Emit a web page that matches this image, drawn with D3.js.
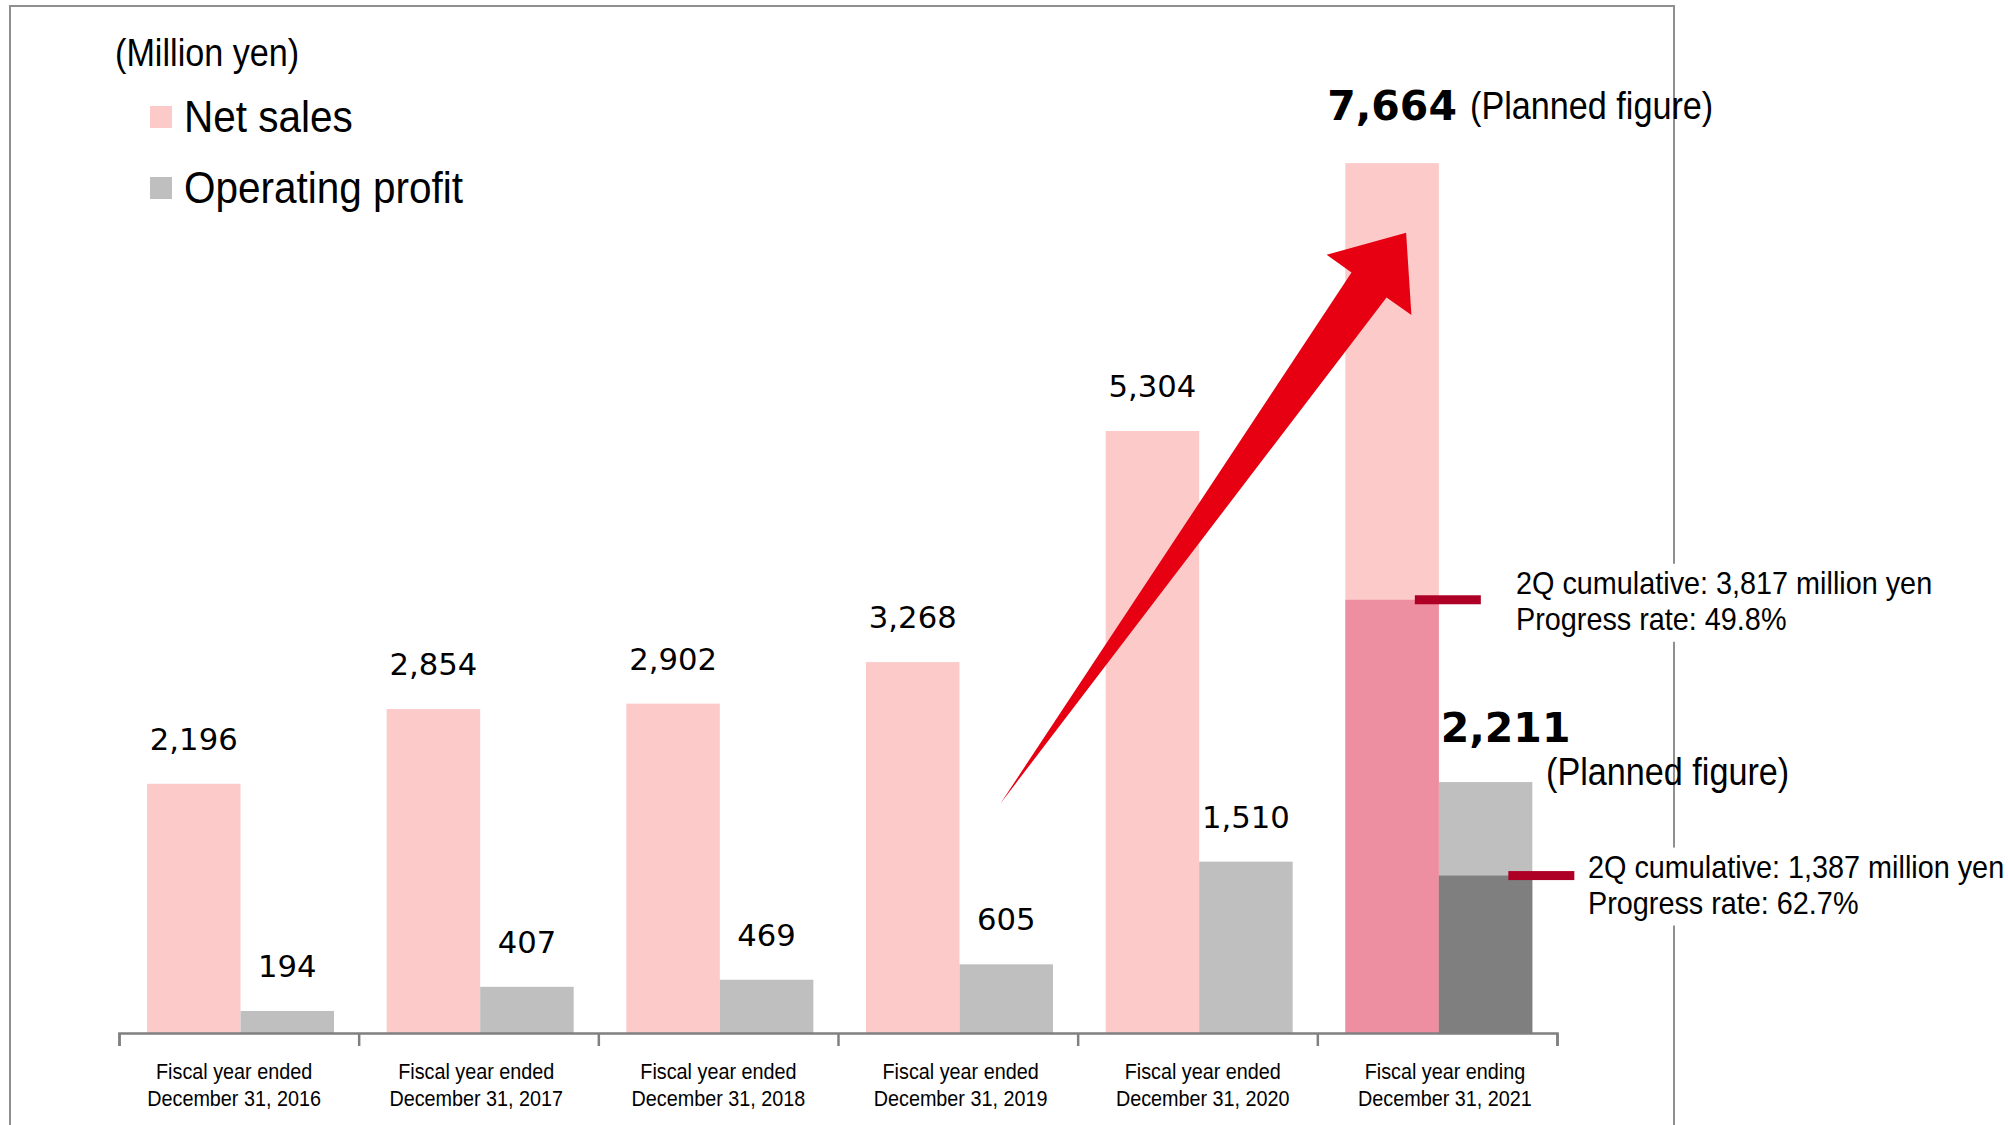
<!DOCTYPE html>
<html>
<head>
<meta charset="utf-8">
<script src="https://cdn.jsdelivr.net/npm/d3@7"></script>
<style>
  body { margin: 0; background: #fff; }
</style>
</head>
<body>
<div id="chart-area"></div>
<script>
/* data */
const years = ["2016", "2017", "2018", "2019", "2020", "2021"]
const labelTop = ["Fiscal year ended", "Fiscal year ended", "Fiscal year ended",
  "Fiscal year ended", "Fiscal year ended", "Fiscal year ending"]
const labelBottom = ["December 31, 2016", "December 31, 2017", "December 31, 2018",
  "December 31, 2019", "December 31, 2020", "December 31, 2021"]
const netSales = [2196, 2854, 2902, 3268, 5304, 7664]
const opProfit = [194, 407, 469, 605, 1510, 2211]
const q2Sales = 3817
const q2Profit = 1387
const q2SalesRate = "49.8%"
const q2ProfitRate = "62.7%"

const WIDTH = 2008
const HEIGHT = 1125
const SX = 0.9   // text in the slide is squeezed horizontally

const svg = d3.select("#chart-area").append("svg")
  .attr("width", WIDTH)
  .attr("height", HEIGHT)

// frame
svg.append("rect")
  .attr("x", 10).attr("y", 6)
  .attr("width", 1664).attr("height", 1200)
  .attr("fill", "none")
  .attr("stroke", "#8f8f8f")
  .attr("stroke-width", 2)

// scales
const x0 = d3.scaleBand().domain(years).range([119, 1557]).padding(0)
const x1 = d3.scaleBand().domain(["sales", "profit"]).range([28, 215]).padding(0)
const y = d3.scaleLinear().domain([0, 8000]).range([1033, 125])
// category labels sit on a slightly wider pitch than the bars
const xLabel = d3.scaleBand().domain(years).range([113, 1566]).padding(0)
const fmt = d3.format(",")

const arial = "'Liberation Sans', Arial, sans-serif"
const verdana = "'DejaVu Sans', Verdana, sans-serif"

function addText(parent, x, yy, str, size, opts = {}) {
  return parent.append("text")
    .attr("transform", `translate(${x},${yy}) scale(${opts.sx || SX},1)`)
    .attr("text-anchor", opts.anchor || "start")
    .style("font-family", opts.family || arial)
    .style("font-size", size + "px")
    .style("font-weight", opts.weight || "normal")
    .attr("fill", "#000")
    .text(str)
}

// bars
const g = svg.append("g")
const rows = years.map((yr, i) => ({ yr, sales: netSales[i], profit: opProfit[i] }))

g.selectAll(".bar-sales").data(rows).enter().append("rect")
  .attr("class", "bar-sales")
  .attr("x", d => x0(d.yr) + x1("sales"))
  .attr("y", d => y(d.sales))
  .attr("width", x1.bandwidth())
  .attr("height", d => y(0) - y(d.sales))
  .attr("fill", "#fdcaca")

g.selectAll(".bar-profit").data(rows).enter().append("rect")
  .attr("class", "bar-profit")
  .attr("x", d => x0(d.yr) + x1("profit"))
  .attr("y", d => y(d.profit))
  .attr("width", x1.bandwidth())
  .attr("height", d => y(0) - y(d.profit))
  .attr("fill", "#bfbfbf")

// 2Q cumulative overlays on the last year
const lastYr = years[years.length - 1]
g.append("rect")
  .attr("x", x0(lastYr) + x1("sales"))
  .attr("y", y(q2Sales))
  .attr("width", x1.bandwidth())
  .attr("height", y(0) - y(q2Sales))
  .attr("fill", "#ee8ea1")
g.append("rect")
  .attr("x", x0(lastYr) + x1("profit"))
  .attr("y", y(q2Profit))
  .attr("width", x1.bandwidth())
  .attr("height", y(0) - y(q2Profit))
  .attr("fill", "#7f7f7f")

// x axis: ticks on the category edges
const edge = d3.scaleLinear().domain([0, years.length]).range(x0.range())
svg.append("g")
  .attr("transform", `translate(0, ${y(0)})`)
  .call(d3.axisBottom(edge).ticks(years.length).tickFormat("").tickSize(13).tickSizeOuter(13))
  .call(a => a.selectAll("path, line").attr("stroke", "#808080").attr("stroke-width", 2.5))

// category labels
rows.forEach((d, i) => {
  const cx = xLabel(d.yr) + xLabel.bandwidth() / 2
  addText(svg, cx, 1079, labelTop[i], 22, { anchor: "middle" })
  addText(svg, cx, 1106, labelBottom[i], 22, { anchor: "middle" })
})

// value labels (actual years)
const actual = rows.slice(0, rows.length - 1)
g.selectAll(".lbl-sales").data(actual).enter().append("text")
  .attr("class", "lbl-sales")
  .attr("transform", d => `translate(${x0(d.yr) + x1("sales") + x1.bandwidth() / 2},${y(d.sales) - 34}) scale(0.99,1)`)
  .attr("text-anchor", "middle")
  .style("font-family", verdana)
  .style("font-size", "31px")
  .text(d => fmt(d.sales))

g.selectAll(".lbl-profit").data(actual).enter().append("text")
  .attr("class", "lbl-profit")
  .attr("transform", d => `translate(${x0(d.yr) + x1("profit") + x1.bandwidth() / 2},${y(d.profit) - 34}) scale(0.99,1)`)
  .attr("text-anchor", "middle")
  .style("font-family", verdana)
  .style("font-size", "31px")
  .text(d => fmt(d.profit))

// planned figures
const last = rows[rows.length - 1]
addText(svg, x0(lastYr) + x1("sales") + x1.bandwidth() / 2, y(last.sales) - 43, fmt(last.sales), 41,
  { anchor: "middle", family: verdana, weight: "bold", sx: 1.0 })
addText(svg, 1470, 119, "(Planned figure)", 38)
addText(svg, x0(lastYr) + x1("profit") + x1.bandwidth() / 2 + 20, y(last.profit) - 40, fmt(last.profit), 41,
  { anchor: "middle", family: verdana, weight: "bold", sx: 1.0 })
addText(svg, 1546, 785, "(Planned figure)", 38)

// arrow
const arrowFrom = [x0("2019") + x1("profit") + x1.bandwidth() / 2 - 6, y(2020)]
const arrowTo = [x0(lastYr) + x1("sales") + x1.bandwidth() * 0.65, y(7050)]
{
  const dx = arrowTo[0] - arrowFrom[0], dy = arrowTo[1] - arrowFrom[1]
  const L = Math.hypot(dx, dy)
  const u = [dx / L, dy / L], n = [-u[1], u[0]]
  const pt = (a, b) => [arrowFrom[0] + u[0] * a + n[0] * b, arrowFrom[1] + u[1] * a + n[1] * b]
  const head = 64, shaft = 21.5, wing = 52
  const poly = [pt(0, 0), pt(L - head, shaft), pt(L - head, wing), pt(L, 0),
    pt(L - head, -wing), pt(L - head, -shaft)]
  svg.append("path")
    .attr("d", d3.line()(poly) + "Z")
    .attr("fill", "#e60012")
}

// 2Q markers and notes
function note(val, slot, tx, dy, lines) {
  const bx = x0(lastYr) + x1(slot) + x1.bandwidth()
  const box = svg.append("g")
  box.append("rect")
    .attr("x", tx - 6).attr("y", y(val) + dy - 30)
    .attr("width", 420).attr("height", 78)
    .attr("fill", "#fff")
  addText(box, tx, y(val) + dy, lines[0], 32)
  addText(box, tx, y(val) + dy + 36, lines[1], 32)
  svg.append("rect")
    .attr("x", bx - 24).attr("y", y(val) - 4.5)
    .attr("width", 66).attr("height", 9)
    .attr("fill", "#ae0027")
}
note(q2Sales, "sales", 1516, -6, [`2Q cumulative: ${fmt(q2Sales)} million yen`, `Progress rate: ${q2SalesRate}`])
note(q2Profit, "profit", 1588, 2, [`2Q cumulative: ${fmt(q2Profit)} million yen`, `Progress rate: ${q2ProfitRate}`])

// legend
addText(svg, 115, 66, "(Million yen)", 38)
const legend = [["Net sales", "#fdcaca", 132], ["Operating profit", "#bfbfbf", 203]]
legend.forEach(([name, col, by]) => {
  svg.append("rect").attr("x", 150).attr("y", by - 26).attr("width", 22).attr("height", 22).attr("fill", col)
  addText(svg, 184, by, name, 45)
})
</script>
</body>
</html>
